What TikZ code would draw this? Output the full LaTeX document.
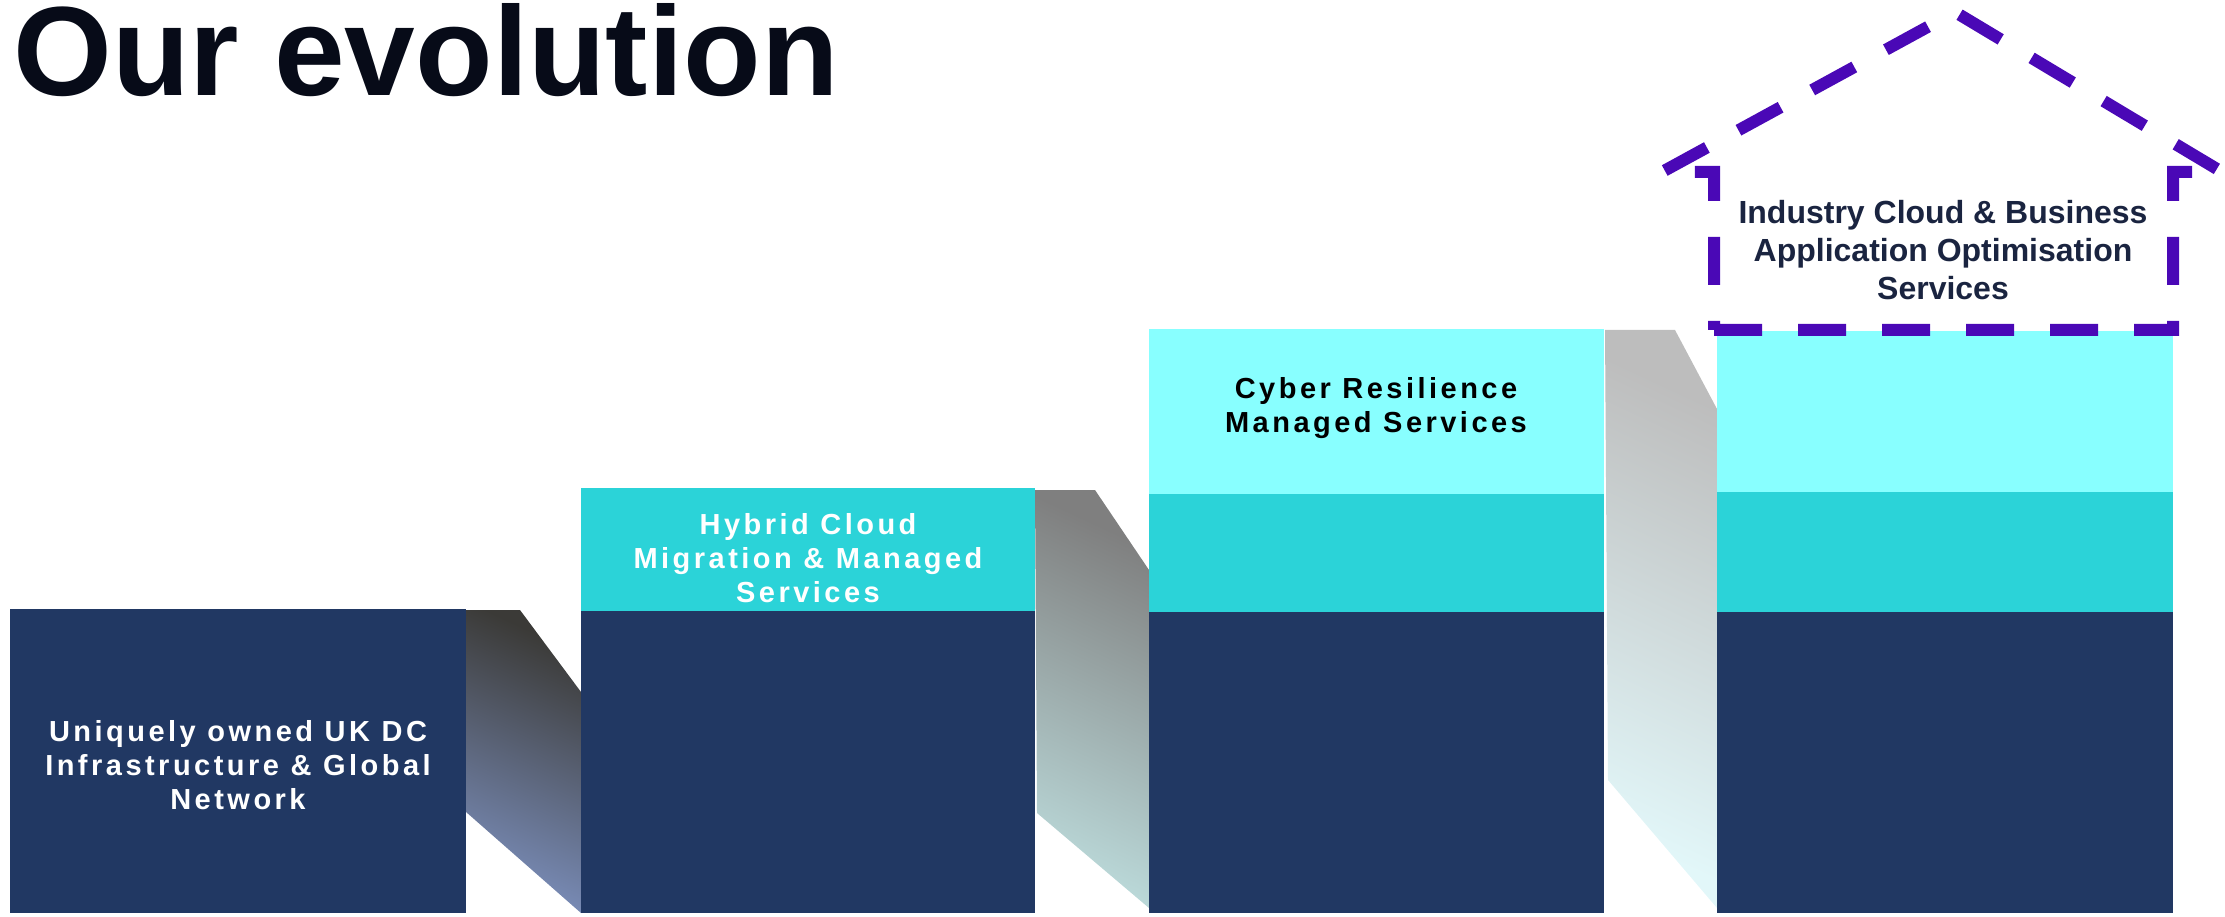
\documentclass[tikz,border=0pt]{standalone}
\usepackage{fontspec}
\setmainfont{Liberation Sans}
\newfontfamily\trackfont[LetterSpace=12]{Liberation Sans}
\definecolor{cnavy}{RGB}{33,56,99}
\definecolor{cteal}{RGB}{43,211,216}
\definecolor{clight}{RGB}{136,255,255}
\definecolor{cpurple}{RGB}{74,8,182}
\definecolor{ctitle}{RGB}{7,11,24}
\definecolor{cdark}{RGB}{26,36,64}
\definecolor{gAtop}{RGB}{59,58,55}
\definecolor{gAbot}{RGB}{122,141,185}
\definecolor{gBtop}{RGB}{127,127,127}
\definecolor{gBbot}{RGB}{186,216,216}
\definecolor{gCtop}{RGB}{189,189,189}
\definecolor{gCbot}{RGB}{226,247,249}
\tikzset{
  boxtext/.style={align=center, inner sep=0pt, font=\trackfont\fontsize{29}{34}\selectfont\bfseries},
  housetext/.style={align=center, inner sep=0pt, text=cdark, font=\fontsize{32}{38}\selectfont\bfseries},
  house/.style={draw=cpurple, line width=12pt, dash pattern=on 48pt off 36pt}
}
\begin{document}
\begin{tikzpicture}[x=1pt,y=-1pt]
\useasboundingbox (0,0) rectangle (2225,917);
% title
\node[anchor=base west, inner sep=0pt, text=ctitle, font=\fontsize{127}{127}\selectfont\bfseries] (title) at (13,96) {Our evolution};
% connectors (ribbons)
\shade[top color=gAtop, middle color=gAtop!88!gAbot, bottom color=gAbot, shading angle=-25]
  (466,610) -- (520,610) -- (581,692) -- (581,913) -- (466,812) -- cycle;
\shade[top color=gBtop, middle color=gBtop!90!gBbot, bottom color=gBbot, shading angle=-25]
  (1035,490) -- (1095,490) -- (1149,570) -- (1149,908) -- (1037,813) -- cycle;
\shade[top color=gCtop, bottom color=gCbot, shading angle=-25]
  (1605,330) -- (1675,330) -- (1717,409) -- (1717,908) -- (1608,780) -- cycle;
% column 1
\fill[cnavy] (10,609) rectangle (466,913);
% column 2
\fill[cteal] (581,488) rectangle (1035,611);
\fill[cnavy] (581,611) rectangle (1035,913);
% column 3
\fill[clight] (1149,329) rectangle (1604,494);
\fill[cteal] (1149,494) rectangle (1604,612);
\fill[cnavy] (1149,612) rectangle (1604,913);
% column 4
\fill[clight] (1717,331) rectangle (2173,492);
\fill[cteal] (1717,492) rectangle (2173,612);
\fill[cnavy] (1717,612) rectangle (2173,913);
% dashed house
\path[house] (1714,330) -- (2173,330) -- (2173,172) -- (2222,172) -- (1955,12) -- (1662,172) -- (1714,172) -- cycle;
% texts
\node[boxtext, text=white] (t1) at (238,765) {Uniquely owned UK DC\\Infrastructure \& Global\\Network};
\node[boxtext, text=white] (t2) at (808,558) {Hybrid Cloud\\Migration \& Managed\\Services};
\node[boxtext, text=black] (t3) at (1376,408) {Cyber Resilience\\Managed Services};
\node[housetext] (t4) at (1943,250) {Industry Cloud \& Business\\Application Optimisation\\Services};
\end{tikzpicture}
\end{document}
